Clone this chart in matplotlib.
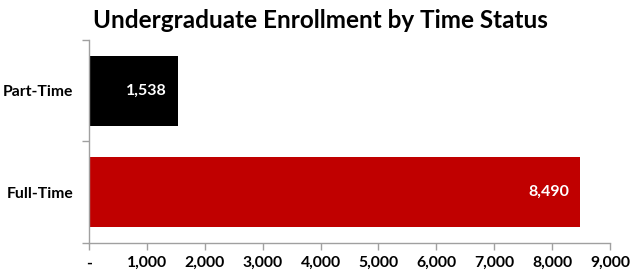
import matplotlib
matplotlib.use("Agg")
import matplotlib.pyplot as plt
from matplotlib.ticker import FixedLocator

categories = ["Full-Time", "Part-Time"]
values = [8490, 1538]
colors = ["#C00000", "#000000"]
xticks = [0, 1000, 2000, 3000, 4000, 5000, 6000, 7000, 8000, 9000]
xticklabels = ["-", "1,000", "2,000", "3,000", "4,000", "5,000", "6,000", "7,000", "8,000", "9,000"]
title = "Undergraduate Enrollment by Time Status"

plt.rcParams['font.family'] = ['Lato', 'DejaVu Sans']
fig = plt.figure(figsize=(6.32, 2.79), dpi=100)
ax = fig.add_axes([0.141, 0.129, 0.824, 0.728])

y = list(range(len(categories)))
ax.barh(y, values, height=0.69, color=colors)
for yi, v in zip(y, values):
    ax.text(v - 190, yi, f"{v:,}", color="white", ha="right", va="center",
            fontsize=11.5, fontweight="bold")

ax.set_xlim(0, 9000)
ax.set_ylim(-0.5, 1.5)
ax.set_xticks(xticks)
ax.set_xticklabels(xticklabels, fontsize=11.3, fontweight="bold")
ax.set_yticks(y)
ax.set_yticklabels(categories, fontsize=11.3, fontweight="bold")
ax.tick_params(axis="y", which="major", length=0, pad=11.5)
ax.yaxis.set_minor_locator(FixedLocator([-0.5, 0.5, 1.5]))
ax.tick_params(axis="y", which="minor", length=5, color="#A0A0A0", width=1)
ax.tick_params(axis="x", which="major", length=5, color="#A0A0A0", width=1, pad=4.5)

for s in ["top", "right"]:
    ax.spines[s].set_visible(False)
for s in ["left", "bottom"]:
    ax.spines[s].set_color("#A0A0A0")
    ax.spines[s].set_linewidth(1)

fig.text(0.507, 0.925, title, ha="center", va="center", fontsize=17.5, fontweight="bold")

fig.savefig("out.png", dpi=100)
